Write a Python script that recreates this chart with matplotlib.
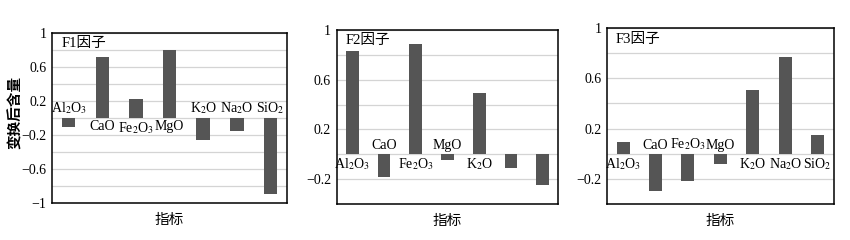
import numpy as np
import matplotlib
matplotlib.use("Agg")
import matplotlib.pyplot as plt
from matplotlib.ticker import MultipleLocator, FixedLocator

plt.rcParams["font.family"] = ["Liberation Serif", "Noto Sans CJK SC"]
plt.rcParams["mathtext.fontset"] = "stix"
plt.rcParams["axes.unicode_minus"] = True

# category names (mathtext for subscripts)
names = ["Al$_2$O$_3$", "CaO", "Fe$_2$O$_3$", "MgO", "K$_2$O", "Na$_2$O", "SiO$_2$"]

f1_vals = [-0.10, 0.72, 0.22, 0.80, -0.26, -0.15, -0.89]
f2_vals = [0.83, -0.18, 0.89, -0.045, 0.49, -0.11, -0.25]
f3_vals = [0.093, -0.30, -0.22, -0.08, 0.51, 0.77, 0.147]

# which category labels are shown on each panel
f1_labels = names
f2_labels = names[:5] + ["", ""]
f3_labels = names

titles = ["F1因子", "F2因子", "F3因子"]
ylims = [(-1.0, 1.0), (-0.4, 1.0), (-0.4, 1.0)]
yticklabels = [[1, 0.6, 0.2, -0.2, -0.6, -1], [1, 0.6, 0.2, -0.2], [1, 0.6, 0.2, -0.2]]

# axes rectangles in figure fractions [left, bottom, width, height]
rects = [
    [0.061, 0.154, 0.277, 0.708],
    [0.396, 0.150, 0.261, 0.725],
    [0.714, 0.150, 0.267, 0.733],
]

BAR = "#555555"
GRID = "#d4d4d4"

fig = plt.figure(figsize=(8.5, 2.4), dpi=100)

panels = zip([f1_vals, f2_vals, f3_vals], [f1_labels, f2_labels, f3_labels],
             titles, ylims, yticklabels, rects)
for i, (vals, labels, title, ylim, yt, rect) in enumerate(panels):
    ax = fig.add_axes(rect)
    x = np.arange(len(vals))
    ax.bar(x, vals, width=0.4, color=BAR, zorder=3)
    ax.set_xlim(-0.5, len(vals) - 0.5)
    ax.set_ylim(*ylim)

    # light gridlines every 0.2, labels only every 0.4
    ax.yaxis.set_minor_locator(MultipleLocator(0.2))
    ax.yaxis.set_major_locator(FixedLocator(yt))
    ax.set_yticklabels([f"{v:g}".replace("-", "\u2212") for v in yt])
    ax.grid(axis="y", which="both", color=GRID, lw=0.9, zorder=0)
    ax.tick_params(axis="y", which="both", length=0, labelsize=10, pad=4)
    ax.set_xticks([])
    for s in ax.spines.values():
        s.set_linewidth(1.1)
        s.set_color("black")

    # category labels sit on the opposite side of zero from the bar
    span = ylim[1] - ylim[0]
    for xi, v, lab in zip(x, vals, labels):
        if not lab:
            continue
        if v >= 0:
            ax.text(xi, -0.012 * span, lab, ha="center", va="top",
                    fontsize=10, zorder=4)
        else:
            ax.text(xi, 0.012 * span, lab, ha="center", va="bottom",
                    fontsize=10, zorder=4)

    ax.text(0.04, 0.975, title, transform=ax.transAxes, ha="left", va="top",
            fontsize=10.5, zorder=5)
    ax.set_xlabel("指标", fontsize=10.5, labelpad=7, family=["Noto Sans CJK SC"])

fig.text(15 / 850, 0.53, "变换后含量", rotation=90, ha="center", va="center",
         fontsize=10.5, fontweight="bold", family=["Noto Sans CJK SC"])

fig.savefig("out.png", dpi=100, facecolor="white")
